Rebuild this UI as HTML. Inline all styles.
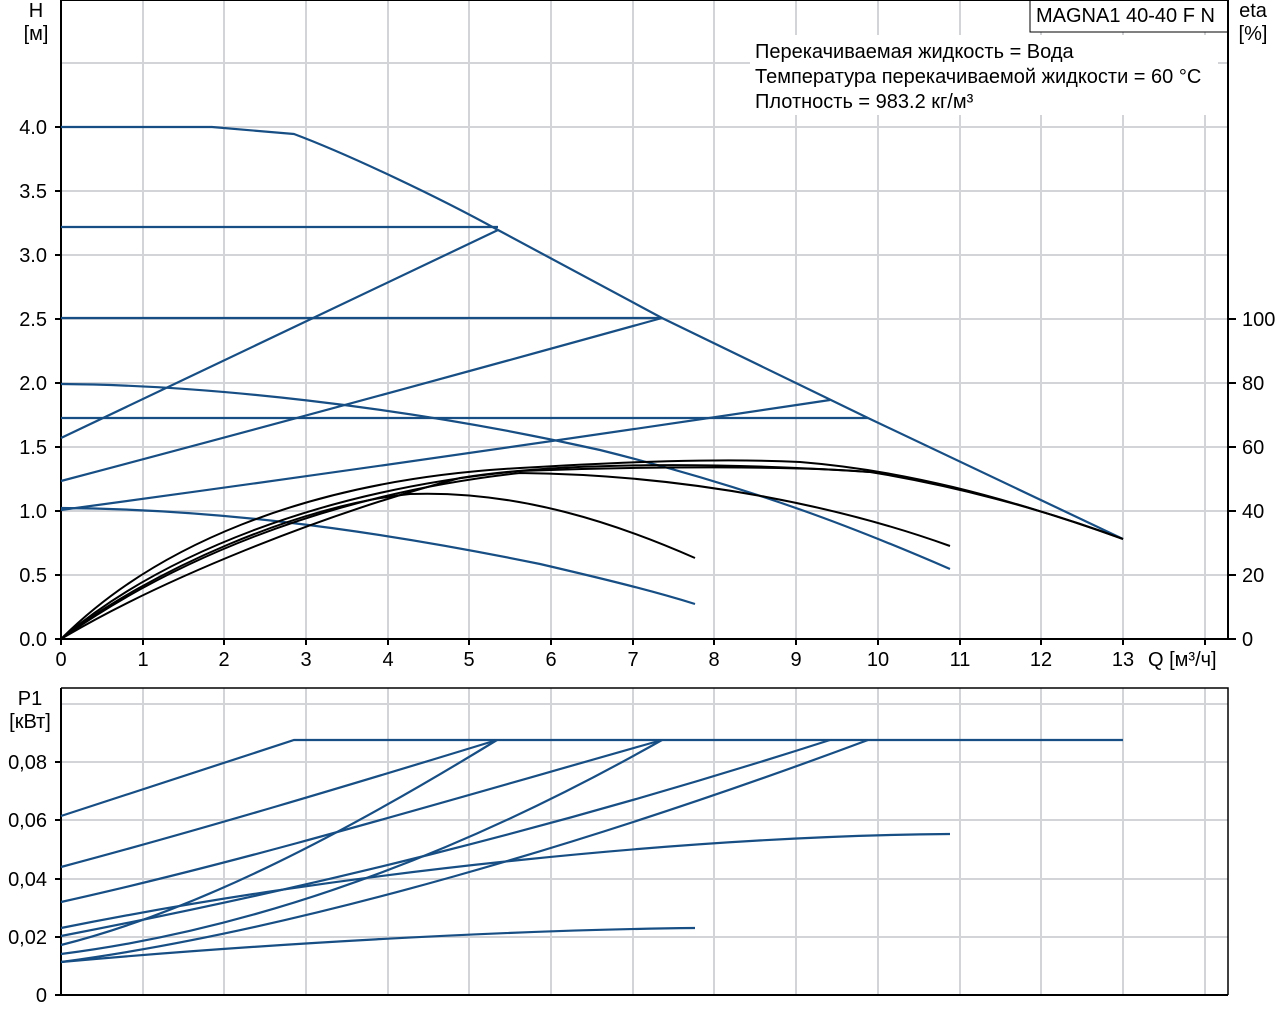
<!DOCTYPE html>
<html><head><meta charset="utf-8"><style>
html,body{margin:0;padding:0;background:#fff;}
svg{display:block;font-family:"Liberation Sans","DejaVu Sans",sans-serif;}
</style></head><body>
<svg width="1280" height="1024" viewBox="0 0 1280 1024" xmlns="http://www.w3.org/2000/svg">
<rect width="1280" height="1024" fill="#fff"/>
<g stroke="#d2d4d8" stroke-width="2" fill="none">
<path d="M143,0V639M224,0V639M306,0V639M388,0V639M469,0V639M551,0V639M633,0V639M714,0V639M796,0V639M878,0V639M960,0V639M1041,0V639M1123,0V639M1205,0V639"/>
<path d="M61,575H1228M61,511H1228M61,447H1228M61,383H1228M61,319H1228M61,255H1228M61,191H1228M61,127H1228M61,63H1228"/>
</g>
<rect x="750" y="35" width="468" height="80" fill="#fff"/>
<rect x="1030" y="0" width="198" height="32" fill="#fff" stroke="#000" stroke-width="1"/>
<g stroke="#000" stroke-width="2" fill="none">
<path d="M61,0V639H1228V0M61,0H1228"/>
<path d="M55,639H61M55,575H61M55,511H61M55,447H61M55,383H61M55,319H61M55,255H61M55,191H61M55,127H61"/>
<path d="M61,639v6M143,639v6M224,639v6M306,639v6M388,639v6M469,639v6M551,639v6M633,639v6M714,639v6M796,639v6M878,639v6M960,639v6M1041,639v6M1123,639v6M1205,639v6"/>
<path d="M1228,639h8M1228,575h8M1228,511h8M1228,447h8M1228,383h8M1228,319h8"/>
</g>
<g font-size="20" fill="#000">
<g text-anchor="end">
<text x="47" y="646">0.0</text><text x="47" y="582">0.5</text><text x="47" y="518">1.0</text><text x="47" y="454">1.5</text><text x="47" y="390">2.0</text><text x="47" y="326">2.5</text><text x="47" y="262">3.0</text><text x="47" y="198">3.5</text><text x="47" y="134">4.0</text>
</g>
<g text-anchor="middle">
<text x="61" y="666">0</text><text x="143" y="666">1</text><text x="224" y="666">2</text><text x="306" y="666">3</text><text x="388" y="666">4</text><text x="469" y="666">5</text><text x="551" y="666">6</text><text x="633" y="666">7</text><text x="714" y="666">8</text><text x="796" y="666">9</text><text x="878" y="666">10</text><text x="960" y="666">11</text><text x="1041" y="666">12</text><text x="1123" y="666">13</text>
<text x="36" y="17">H</text><text x="36" y="40">[м]</text>
<text x="1253" y="17">eta</text><text x="1253" y="40">[%]</text>
<text x="30" y="705">P1</text><text x="30" y="728">[кВт]</text>
</g>
<text x="1148" y="666">Q [м³/ч]</text>
<text x="1242" y="646">0</text><text x="1242" y="582">20</text><text x="1242" y="518">40</text><text x="1242" y="454">60</text><text x="1242" y="390">80</text><text x="1242" y="326">100</text>
<text x="1036" y="22">MAGNA1 40-40 F N</text>
<text x="755" y="58">Перекачиваемая жидкость = Вода</text>
<text x="755" y="83">Температура перекачиваемой жидкости = 60 °C</text>
<text x="755" y="108">Плотность = 983.2 кг/м³</text>
</g>
<g stroke="#174e84" stroke-width="2.2" fill="none" stroke-linejoin="round">
<path d="M61,127L212,127L294,134C350,155 440,198 498,230L662,318L868,418L1123,539"/>
<path d="M61,227H498M61,318H662M61,418H868"/>
<path d="M61,438L498,230M61,481Q330,410 662,318M61,510Q430,460 830,400"/>
<path d="M61,384C200,385 400,405 600,450C760,490 860,530 950,569"/>
<path d="M61,508C200,509 350,525 540,564C600,578 650,590 695,604"/>
</g>
<g stroke="#000" stroke-width="2" fill="none">
<path d="M61,639C150,550 300,480 520,468C620,462 720,458 800,462C900,470 1000,495 1123,539"/>
<path d="M61,639C160,555 320,490 520,471C650,466 800,466 870,472C950,485 1040,508 1123,539"/>
<path d="M61,639C165,565 320,495 520,473C700,475 850,510 950,546"/>
<path d="M61,639C150,570 300,505 410,494C520,490 620,525 695,558"/>
<path d="M61,639C160,580 320,515 460,478C560,462 720,462 870,472"/>
</g>
<g stroke="#d2d4d8" stroke-width="2" fill="none">
<path d="M143,688V995M224,688V995M306,688V995M388,688V995M469,688V995M551,688V995M633,688V995M714,688V995M796,688V995M878,688V995M960,688V995M1041,688V995M1123,688V995M1205,688V995"/>
<path d="M61,937H1228M61,879H1228M61,820H1228M61,762H1228M61,704H1228"/>
</g>
<g stroke="#000" fill="none">
<path d="M61,688H1228V995" stroke-width="1.5"/>
<path d="M61,688V995H1228M55,995H61M55,937H61M55,879H61M55,820H61M55,762H61" stroke-width="2"/>
</g>
<g font-size="20" fill="#000" text-anchor="end">
<text x="47" y="1002">0</text><text x="47" y="944">0,02</text><text x="47" y="886">0,04</text><text x="47" y="827">0,06</text><text x="47" y="769">0,08</text>
</g>
<g stroke="#174e84" stroke-width="2.2" fill="none">
<path d="M61,816L294,740H1123"/>
<path d="M61,867C200,830 350,785 497,740"/>
<path d="M61,902C250,860 450,800 662,740"/>
<path d="M61,945C200,910 350,830 497,740"/>
<path d="M61,954C250,930 450,860 662,740"/>
<path d="M61,936C300,890 550,830 830,740"/>
<path d="M61,962C300,930 600,840 868,740"/>
<path d="M61,928C350,870 700,836 950,834"/>
<path d="M61,962C250,945 500,930 695,928"/>
</g>
</svg>
</body></html>
